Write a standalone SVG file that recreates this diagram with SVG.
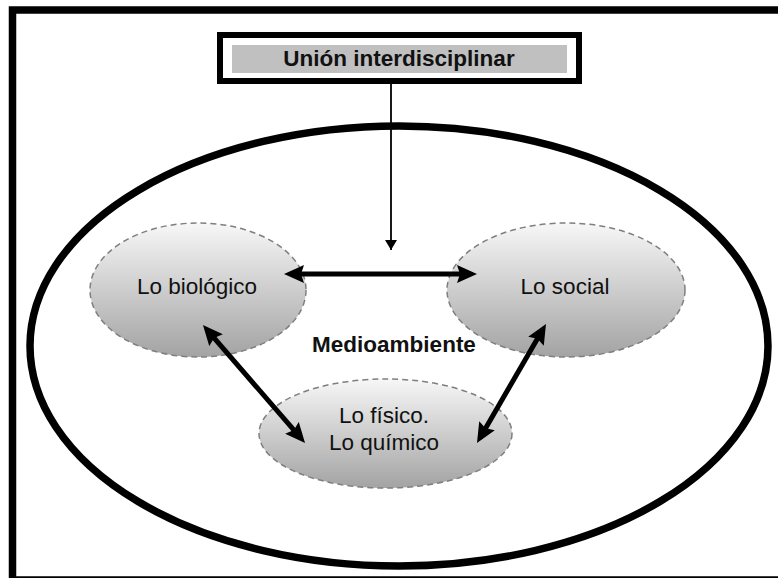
<svg xmlns="http://www.w3.org/2000/svg" width="778" height="578" viewBox="0 0 778 578">
<style>
.lbl{font-family:"Liberation Sans",Arial,sans-serif;font-size:22.5px;fill:#111;text-anchor:middle}
.bold{font-weight:bold}
.node{fill:url(#g);stroke:#7f7f7f;stroke-width:1.5;stroke-dasharray:6 4}
.thick{stroke:#000;stroke-width:5;fill:none;marker-start:url(#ah);marker-end:url(#ah)}
</style>
<defs>
<linearGradient id="g" x1="0" y1="0" x2="0" y2="1">
<stop offset="0" stop-color="#f7f7f7"/>
<stop offset="1" stop-color="#a3a3a3"/>
</linearGradient>
<marker id="ah" markerUnits="userSpaceOnUse" viewBox="0 0 20 18" refX="10" refY="9" markerWidth="20" markerHeight="18" orient="auto-start-reverse">
<path d="M0,0 L20,9 L0,18 L3,9 z" fill="#000"/>
</marker>
<marker id="sh" markerUnits="userSpaceOnUse" viewBox="0 0 10 12" refX="10" refY="6" markerWidth="10" markerHeight="12" orient="auto">
<path d="M0,0 L10,6 L0,12 z" fill="#000"/>
</marker>
</defs>
<rect width="778" height="578" fill="#fff"/>
<rect id="frame" x="12.5" y="10" width="790" height="570" fill="none" stroke="#000" stroke-width="7.5"/>
<g id="medioambiente">
<ellipse cx="399" cy="346" rx="369" ry="220" fill="none" stroke="#000" stroke-width="7.5"/>
<text class="lbl bold" x="394" y="352">Medioambiente</text>
</g>
<g id="union">
<rect x="220" y="35" width="359" height="46" fill="#fff" stroke="#000" stroke-width="6"/>
<rect x="232" y="45" width="335" height="28" fill="#c0c0c0"/>
<text class="lbl bold" x="399" y="66">Unión interdisciplinar</text>
</g>
<g id="biologico">
<ellipse class="node" cx="198" cy="290" rx="108" ry="67"/>
<text class="lbl" x="197" y="294">Lo biológico</text>
</g>
<g id="social">
<ellipse class="node" cx="566" cy="290" rx="119" ry="67"/>
<text class="lbl" x="565" y="294">Lo social</text>
</g>
<g id="fisico">
<ellipse class="node" cx="385.5" cy="433.5" rx="126.5" ry="54.5"/>
<text class="lbl" x="384" y="423">Lo físico.</text>
<text class="lbl" x="384" y="450">Lo químico</text>
</g>
<g id="connectors">
<line x1="391" y1="84" x2="391" y2="250" stroke="#000" stroke-width="1.8" marker-end="url(#sh)"/>
<line class="thick" x1="294" y1="274" x2="467" y2="274"/>
<line class="thick" x1="209.5" y1="332.6" x2="298.5" y2="435.4"/>
<line class="thick" x1="541" y1="332.6" x2="482" y2="434.4"/>
</g>
</svg>
